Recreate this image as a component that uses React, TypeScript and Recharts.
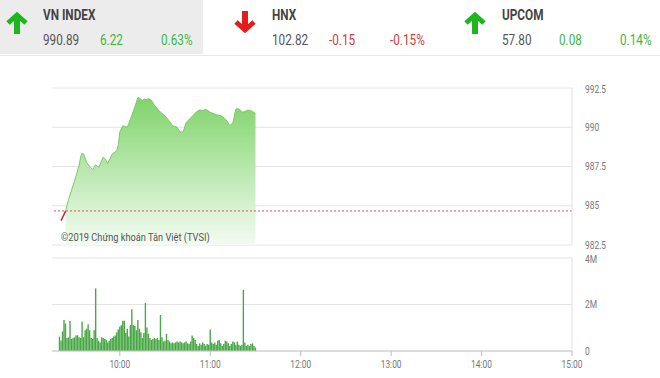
import {
  ComposedChart,
  Area,
  Line,
  Bar,
  XAxis,
  YAxis,
  CartesianGrid,
  ReferenceLine,
} from 'recharts';

// minutes since midnight
const AXIS_START = 555; // 9:15
const AXIS_END = 900; // 15:00
const timeTicks = [600, 660, 720, 780, 840, 900];
const timeTickLabels = ['10:00', '11:00', '12:00', '13:00', '14:00', '15:00'];

const priceTicks = [982.5, 985, 987.5, 990, 992.5];
const volumeTicks = [0, 2000000, 4000000];
const volumeTickLabels = ['0', '2M', '4M'];

const REF_PRICE = 984.67;

// opening segment, below the reference price (drawn red)
const openTimes = [561, 562, 563, 564];
const openValues = [984.05, 984.25, 984.45, 984.67];

// rest of the session (drawn green)
const priceTimes = [
  564, 566, 568, 570, 571, 573, 574, 575, 576, 578, 580, 582, 584, 586, 589, 590, 592, 595,
  598, 599, 600, 602, 605, 607, 610, 612, 613, 615, 616, 618, 619, 621, 623, 626, 629, 632,
  635, 638, 640, 642, 644, 647, 649, 651, 653, 655, 657, 660, 664, 668, 671, 673, 675, 677,
  678, 680, 681, 683, 685, 687, 688, 690,
];
const priceValues = [
  984.67, 985.4, 986.0, 986.6, 986.9, 987.6, 988.1, 988.35, 988.3, 987.75, 987.5, 987.3,
  987.6, 987.45, 988.1, 988.0, 987.7, 988.3, 988.5, 988.9, 989.7, 990.1, 990.0, 990.5,
  991.3, 991.9, 991.85, 991.7, 991.8, 991.75, 991.85, 991.7, 991.4, 991.05, 990.8, 990.5,
  990.1, 990.0, 989.7, 989.7, 990.3, 990.6, 990.8, 991.0, 991.1, 991.05, 991.15, 990.95,
  990.8, 990.7, 990.4, 990.1, 990.3, 991.15, 991.2, 991.1, 990.95, 991.0, 991.1, 991.05,
  991.0, 990.89,
];

// volume per minute from 9:20, in millions
const VOLUME_START = 560;
const volumeValues = [
  0.62, 0.44, 0.84, 1.33, 1.18, 0.56, 0.59, 1.29, 0.52, 0.56, 0.59, 0.67, 0.68, 0.59, 0.56,
  1.26, 0.59, 0.89, 0.96, 1.15, 0.89, 0.56, 0.52, 0.89, 2.69, 0.56, 0.44, 0.37, 0.59, 0.56,
  0.52, 0.47, 0.37, 0.44, 0.52, 0.56, 0.62, 0.67, 0.81, 0.92, 1.04, 1.11, 1.3, 1.3, 0.77,
  0.96, 0.62, 1.11, 1.8, 1.11, 1.07, 0.89, 1.33, 0.96, 0.81, 0.56, 0.77, 2.07, 1.01, 0.74,
  0.56, 0.47, 0.52, 0.56, 0.52, 0.56, 0.47, 1.55, 0.59, 0.41, 0.44, 0.74, 0.47, 0.41, 0.33,
  0.37, 0.33, 0.37, 0.41, 0.37, 0.41, 0.37, 0.33, 0.37, 0.41, 0.33, 0.3, 0.41, 0.67, 0.56,
  0.47, 0.3, 0.22, 0.33, 0.27, 0.37, 0.3, 0.22, 0.3, 0.27, 0.92, 0.37, 0.3, 0.37, 0.27, 0.44,
  0.47, 0.33, 0.22, 0.3, 0.44, 0.41, 0.33, 0.22, 0.3, 0.41, 0.37, 0.27, 0.41, 0.27, 0.22,
  0.27, 2.63, 0.37, 0.22, 0.27, 0.22, 0.3, 0.33, 0.22, 0.15,
];

const indexNames = ['VN INDEX', 'HNX', 'UPCOM'];
const indexValues = ['990.89', '102.82', '57.80'];
const indexChanges = ['6.22', '-0.15', '0.08'];
const indexPercents = ['0.63%', '-0.15%', '0.14%'];
const indexUp = [true, false, true];

const FONT = 'Roboto, sans-serif';
const GREEN = '#3cb83c';
const RED = '#d23a3a';

const priceMap: Record<number, any> = {};
openTimes.forEach((t, i) => {
  priceMap[t] = { ...(priceMap[t] || { t }), open: openValues[i] };
});
priceTimes.forEach((t, i) => {
  priceMap[t] = { ...(priceMap[t] || { t }), price: priceValues[i] };
});
const priceData = Object.values(priceMap).sort((a: any, b: any) => a.t - b.t);

const volumeData = volumeValues.map((v, i) => ({ t: VOLUME_START + i, vol: v * 1000000 }));

function Arrow({ up, x }: { up: boolean; x: number }) {
  const color = up ? '#1fb51f' : '#e21d1d';
  return (
    <svg
      width={26}
      height={24}
      style={{ position: 'absolute', left: x, top: up ? 11 : 10 }}
    >
      <g transform={up ? '' : 'rotate(180 13 12)'}>
        <path d="M4 12 L13 4 L22 12" stroke={color} strokeWidth={5} fill="none" strokeLinejoin="miter" />
        <line x1={13} y1={6} x2={13} y2={23} stroke={color} strokeWidth={6} />
      </g>
    </svg>
  );
}

// condensed text: Roboto squeezed horizontally
function Narrow({ x, y, size, color, bold, children }: any) {
  return (
    <div
      style={{
        position: 'absolute', left: x, top: y, fontFamily: FONT, fontSize: size, color,
        fontWeight: bold ? 'bold' : 'normal', whiteSpace: 'nowrap',
        transform: 'scaleX(0.84)', transformOrigin: 'left top',
      }}
    >
      {children}
    </div>
  );
}

function Header() {
  const panelX = [0, 229, 459];
  return (
    <div style={{ position: 'absolute', left: 0, top: 0, width: 660, height: 56 }}>
      <div style={{ position: 'absolute', left: 0, top: 0, width: 203, height: 54, background: '#ececec' }} />
      <div style={{ position: 'absolute', left: 0, top: 55, width: 660, height: 1, background: '#e6e6e6' }} />
      {indexNames.map((name, i) => {
        const x0 = panelX[i];
        const tx = x0 + 43;
        const color = indexUp[i] ? GREEN : RED;
        return (
          <div key={name}>
            <Arrow up={indexUp[i]} x={x0 + (i === 0 ? 4 : 3)} />
            <Narrow x={tx} y={7} size={14} color="#444" bold>{name}</Narrow>
            <Narrow x={tx} y={32} size={14} color="#555">{indexValues[i]}</Narrow>
            <Narrow x={tx + 57} y={32} size={14} color={color}>{indexChanges[i]}</Narrow>
            <Narrow x={tx + 118} y={32} size={14} color={color}>{indexPercents[i]}</Narrow>
          </div>
        );
      })}
    </div>
  );
}

function makeTick(labels: (v: number) => string, dy: string, anchor: string) {
  return (props: any) => {
    const { x, y, payload } = props;
    return (
      <text
        transform={`translate(${x},${y}) scale(0.84,1)`}
        textAnchor={anchor}
        dy={dy}
        fontFamily={FONT}
        fontSize={10}
        fill="#777"
      >
        {labels(payload.value)}
      </text>
    );
  };
}

const TimeTick = makeTick((v) => timeTickLabels[timeTicks.indexOf(v)], '0.71em', 'middle');
const PriceTick = makeTick((v) => String(v), '0.355em', 'start');
const VolumeTick = makeTick((v) => volumeTickLabels[volumeTicks.indexOf(v)], '0.355em', 'start');

export default function App() {
  return (
    <div
      style={{
        position: 'absolute', left: 0, top: 0, width: 660, height: 378,
        background: '#fff', overflow: 'hidden', fontFamily: FONT,
      }}
    >
      <Header />

      <div style={{ position: 'absolute', left: 0, top: 80 }}>
        <ComposedChart
          width={660}
          height={175}
          data={priceData}
          margin={{ top: 8, right: 0, bottom: 10, left: 52 }}
        >
          <defs>
            <linearGradient id="priceFill" x1="0" y1="0" x2="0" y2="1">
              <stop offset="0%" stopColor="#7fd36a" stopOpacity={1} />
              <stop offset="70%" stopColor="#d2f0cb" stopOpacity={1} />
              <stop offset="100%" stopColor="#f4fbf2" stopOpacity={1} />
            </linearGradient>
          </defs>
          <CartesianGrid vertical={false} stroke="#e4e4e4" />
          <XAxis
            dataKey="t"
            type="number"
            domain={[AXIS_START, AXIS_END]}
            ticks={timeTicks}
            hide
          />
          <YAxis
            orientation="right"
            width={88}
            domain={[priceTicks[0], priceTicks[priceTicks.length - 1]]}
            ticks={priceTicks}
            axisLine={{ stroke: '#dbe2e8' }}
            tickLine={false}
            tickMargin={7}
            tick={PriceTick}
          />
          <Area
            type="linear"
            dataKey="price"
            stroke="#78cb66"
            strokeWidth={1}
            fill="url(#priceFill)"
            fillOpacity={1}
            baseValue={priceTicks[0]}
            connectNulls
            dot={false}
            activeDot={false}
            isAnimationActive={false}
          />
          <Line
            type="linear"
            dataKey="open"
            stroke="#c0262b"
            strokeWidth={1.5}
            connectNulls
            dot={false}
            activeDot={false}
            isAnimationActive={false}
          />
          <ReferenceLine y={REF_PRICE} stroke="#d9534f" strokeDasharray="2 2" strokeWidth={1} />
        </ComposedChart>
      </div>

      <Narrow x={61} y={231} size={11}  color="#555">©2019 Chứng khoán Tân Việt (TVSI)</Narrow>

      <div style={{ position: 'absolute', left: 0, top: 250 }}>
        <ComposedChart
          width={660}
          height={128}
          data={volumeData}
          margin={{ top: 8, right: 0, bottom: 0, left: 52 }}
        >
          <CartesianGrid vertical={false} stroke="#e4e4e4" />
          <XAxis
            dataKey="t"
            type="number"
            domain={[AXIS_START, AXIS_END]}
            ticks={timeTicks}
            height={27}
            axisLine={{ stroke: '#c8c8c8' }}
            tickLine={{ stroke: '#bbb' }}
            tickSize={5}
            tickMargin={5}
            tick={TimeTick}
          />
          <YAxis
            orientation="right"
            width={88}
            domain={[0, 4000000]}
            ticks={volumeTicks}
            axisLine={{ stroke: '#dbe2e8' }}
            tickLine={false}
            tickMargin={7}
            tick={VolumeTick}
          />
          <Bar dataKey="vol" fill="#48a845" barSize={1.4} isAnimationActive={false} />
        </ComposedChart>
      </div>
    </div>
  );
}
